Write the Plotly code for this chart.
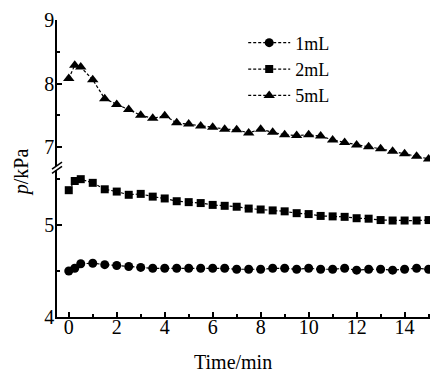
import plotly.graph_objects as go

time_min = [0, 0.25, 0.5, 1, 1.5, 2, 2.5, 3, 3.5, 4, 4.5, 5, 5.5, 6, 6.5, 7, 7.5, 8,
            8.5, 9, 9.5, 10, 10.5, 11, 11.5, 12, 12.5, 13, 13.5, 14, 14.5, 15]
p_1mL = [4.50, 4.53, 4.58, 4.585, 4.57, 4.56, 4.55, 4.54, 4.53, 4.53, 4.53,
         4.53, 4.53, 4.53, 4.53, 4.52, 4.52, 4.52, 4.53, 4.53, 4.52, 4.53,
         4.52, 4.52, 4.53, 4.51, 4.52, 4.52, 4.51, 4.52, 4.53, 4.52]
p_2mL = [5.38, 5.48, 5.50, 5.46, 5.39, 5.365, 5.33, 5.34, 5.31, 5.29, 5.26,
         5.25, 5.24, 5.22, 5.21, 5.20, 5.18, 5.17, 5.16, 5.15, 5.13, 5.12,
         5.10, 5.095, 5.09, 5.075, 5.07, 5.055, 5.05, 5.05, 5.05, 5.055]
p_5mL = [8.08, 8.29, 8.26, 8.06, 7.76, 7.67, 7.59, 7.50, 7.45, 7.49, 7.38,
         7.36, 7.33, 7.31, 7.28, 7.27, 7.22, 7.28, 7.23, 7.19, 7.18, 7.19,
         7.17, 7.11, 7.07, 7.03, 7.00, 6.97, 6.93, 6.89, 6.85, 6.81]
series_names = ["1mL", "2mL", "5mL"]
x_ticks = [0, 2, 4, 6, 8, 10, 12, 14]
y_ticks_low = [4, 5]
y_ticks_high = [7, 8, 9]

FONT = "Liberation Serif"
line_style = dict(color="black", width=1.2, dash="3px,2px")

fig = go.Figure()
fig.add_trace(go.Scatter(x=time_min, y=p_1mL, name=series_names[0], mode="lines+markers",
                         line=line_style, marker=dict(symbol="circle", size=9, color="black"),
                         yaxis="y"))
fig.add_trace(go.Scatter(x=time_min, y=p_2mL, name=series_names[1], mode="lines+markers",
                         line=line_style, marker=dict(symbol="square", size=8, color="black"),
                         yaxis="y"))
fig.add_trace(go.Scatter(x=time_min, y=p_5mL, name=series_names[2], mode="lines+markers",
                         line=line_style, marker=dict(symbol="triangle-up", size=10, color="black"),
                         yaxis="y2"))

axis_common = dict(showline=True, linecolor="black", linewidth=1.5, showgrid=False,
                   zeroline=False, ticks="inside", ticklen=5, tickwidth=1.5, tickcolor="black",
                   ticklabeloverflow="allow",
                   tickfont=dict(family=FONT, size=20, color="black"))

# The page body adds an 8px offset, so the figure is sized to the visible window.
fig.update_layout(
    width=430, height=366,
    margin=dict(l=49, r=1, t=7, b=57),
    paper_bgcolor="white", plot_bgcolor="white",
    font=dict(family=FONT, size=20, color="black"),
    xaxis=dict(range=[-0.49, 15.35], tickvals=x_ticks, anchor="y", ticklabelstandoff=-9,
               minor=dict(dtick=1, tick0=0, ticks="inside", ticklen=3, tickwidth=1.5,
                          tickcolor="black"),
               **axis_common),
    yaxis=dict(domain=[0, 0.495], range=[4, 5.60], tickvals=y_ticks_low, anchor="x",
               ticklabelstandoff=-3,
               minor=dict(dtick=0.5, tick0=4, ticks="inside", ticklen=3, tickwidth=1.5,
                          tickcolor="black"),
               **axis_common),
    yaxis2=dict(domain=[0.51, 1], range=[6.705, 9.004], tickvals=y_ticks_high, anchor="x",
                ticklabelstandoff=-3,
                minor=dict(dtick=0.5, tick0=7, ticks="inside", ticklen=3, tickwidth=1.5,
                           tickcolor="black"),
                **axis_common),
    legend=dict(x=0.49, y=0.985, xanchor="left", yanchor="top", bgcolor="rgba(0,0,0,0)",
                font=dict(family=FONT, size=18, color="black"), tracegroupgap=0,
                itemwidth=42),
    showlegend=True,
)

# axis break marks
for yy in (0.495, 0.51):
    fig.add_shape(type="line", xref="paper", yref="paper",
                  xsizemode="pixel", ysizemode="pixel", xanchor=0, yanchor=yy,
                  x0=-5, x1=5, y0=-3.5, y1=3.5,
                  line=dict(color="black", width=1.5))

fig.add_annotation(text="<i>p</i>/kPa", xref="paper", yref="paper",
                   x=-0.095, y=0.487, textangle=-90, showarrow=False,
                   xanchor="center", yanchor="middle",
                   font=dict(family=FONT, size=20, color="black"))
fig.add_annotation(text="Time/min", xref="paper", yref="paper",
                   x=0.463, y=-0.152, showarrow=False,
                   xanchor="center", yanchor="middle",
                   font=dict(family=FONT, size=20, color="black"))

fig.write_html("out.html")
